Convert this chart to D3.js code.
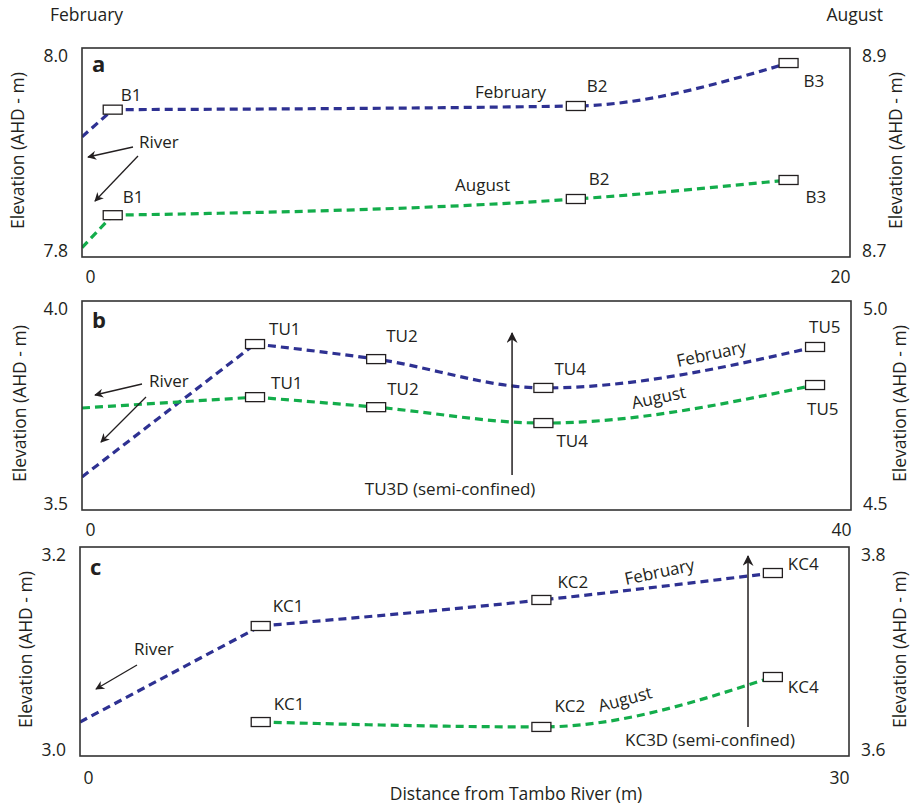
<!DOCTYPE html>
<html>
<head>
<meta charset="utf-8">
<script src="https://cdn.jsdelivr.net/npm/d3@7"></script>
<style>
  body { margin: 0; background: #fff; }
  text { font-family: "Open Sans", sans-serif; fill: #231f20; }
</style>
</head>
<body>
<div id="chart"></div>
<script>
// ---- data ----
// distance from river (m), elevation February (left axis) and August (right axis)
const wellsA = ["B1", "B2", "B3"];
const distA = [0.8, 12.86, 18.4];
const febA = [7.941, 7.9445, 7.9856];
const augA = [8.740, 8.7555, 8.7737];
const riverA = { feb: 7.915, aug: 8.709 };

const wellsB = ["TU1", "TU2", "TU4", "TU5"];
const distB = [9.0, 15.3, 24.0, 38.13];
const febB = [3.897, 3.861, 3.792, 3.890];
const augB = [4.770, 4.746, 4.708, 4.799];
const riverB = { feb: 3.579, aug: 4.744 };
const deepB = { name: "TU3D (semi-confined)", x: 22.37 };

const wellsC = ["KC1", "KC2", "KC4"];
const distC = [7.05, 18.0, 27.03];
const febC = [3.1244, 3.1493, 3.1751];
const augC = [3.6325, 3.6278, 3.6756];
const riverC = { feb: 3.0325, aug: null };
const deepC = { name: "KC3D (semi-confined)", x: 26.06 };

const xMaxes = [20, 40, 30];
const leftDomains = [[7.8, 8.0], [3.5, 4.0], [3.0, 3.2]];
const rightDomains = [[8.7, 8.9], [4.5, 5.0], [3.6, 3.8]];

// ---- layout ----
const width = 912, height = 805;
const boxH = 209;
const febColor = "#2e3192", augColor = "#13ad4b";
const fs = 17.5;   // general text size
const wfs = 17;    // well label size

const panels = [
  { letter: "a", wells: wellsA, dist: distA, feb: febA, aug: augA, river: riverA, deep: null,
    left: 82, right: 850, top: 48, letterDy: 24, titleL: 18, titleR: 897,
    febLab: [[8, -9], [11, -14], [15, 24]], augLab: [[10, -12], [13, -14], [17, 23]],
    febText: { x: 475, y: 98, r: 0 }, augText: { x: 455, y: 191, r: 0 },
    riverText: [57, 100], arrows: [[51, 99, 6, 109], [56, 108, 13, 153]] },
  { letter: "b", wells: wellsB, dist: distB, feb: febB, aug: augB, river: riverB, deep: deepB,
    left: 82, right: 851, top: 301, letterDy: 27, titleL: 20, titleR: 901,
    febLab: [[14, -9], [10, -17], [11, -13], [-6, -14]], augLab: [[16, -8], [11, -12], [13, 24], [-8, 30]],
    febText: { x: 678, y: 367, r: -12 }, augText: { x: 633, y: 409, r: -12 },
    riverText: [67, 86], arrows: [[60, 83, 13, 94], [64, 96, 19, 141]],
    deepBottom: 35, deepTip: 32, deepTextDx: -62, deepTextY: 194 },
  { letter: "c", wells: wellsC, dist: distC, feb: febC, aug: augC, river: riverC, deep: deepC,
    left: 80, right: 849, top: 547, letterDy: 28, titleL: 26, titleR: 901,
    febLab: [[12, -14], [16, -12], [15, -3]], augLab: [[13, -12], [13, -15], [15, 16]],
    febText: { x: 626, y: 585, r: -12 }, augText: { x: 600, y: 712, r: -15 },
    riverText: [54, 108], arrows: [[57, 118, 16, 142]],
    deepBottom: 29, deepTip: 9, deepTextDx: -38, deepTextY: 199 }
];

const svg = d3.select("#chart").append("svg")
  .attr("width", width)
  .attr("height", height);

const defs = svg.append("defs");
// small arrow head for the river pointers, bigger one for the deep wells
defs.append("marker").attr("id", "headS")
  .attr("viewBox", "0 0 10 10").attr("refX", 9).attr("refY", 5)
  .attr("markerUnits", "userSpaceOnUse").attr("markerWidth", 11).attr("markerHeight", 9)
  .attr("orient", "auto")
  .append("path").attr("d", "M0,0 L10,5 L0,10 L3,5 Z").attr("fill", "#231f20");
defs.append("marker").attr("id", "headL")
  .attr("viewBox", "0 0 10 10").attr("refX", 9).attr("refY", 5)
  .attr("markerUnits", "userSpaceOnUse").attr("markerWidth", 13).attr("markerHeight", 11)
  .attr("orient", "auto")
  .append("path").attr("d", "M0,0 L10,5 L0,10 L3,5 Z").attr("fill", "#231f20");

// month headers
svg.append("text").attr("x", 50).attr("y", 21).attr("font-size", fs).text("February");
svg.append("text").attr("x", 883).attr("y", 21).attr("font-size", fs)
  .attr("text-anchor", "end").text("August");

panels.forEach((p, i) => {
  const g = svg.append("g");
  const bottom = p.top + boxH;

  const x = d3.scaleLinear().domain([0, xMaxes[i]]).range([p.left, p.right]);
  const yL = d3.scaleLinear().domain(leftDomains[i]).range([bottom, p.top]);
  const yR = d3.scaleLinear().domain(rightDomains[i]).range([bottom, p.top]);

  // clip so lines stop at the frame
  defs.append("clipPath").attr("id", "clip" + i)
    .append("rect").attr("x", p.left).attr("y", p.top)
    .attr("width", p.right - p.left).attr("height", boxH);

  const lines = g.append("g").attr("clip-path", `url(#clip${i})`);

  // straight run from the river to the first well, smooth curve between wells
  const drawProfile = (vals, riverVal, y, color) => {
    const pts = p.dist.map((d, j) => ({ x: d, y: vals[j] }));
    const smooth = d3.line().x(d => x(d.x)).y(d => y(d.y)).curve(d3.curveMonotoneX);
    const straight = d3.line().x(d => x(d.x)).y(d => y(d.y));
    const style = sel => sel.attr("fill", "none").attr("stroke", color)
      .attr("stroke-width", 3.2).attr("stroke-dasharray", "8,5");
    if (riverVal != null) {
      lines.append("path").attr("d", straight([{ x: 0, y: riverVal }, pts[0]])).call(style);
    }
    lines.append("path").attr("d", smooth(pts)).call(style);
  };
  drawProfile(p.feb, p.river.feb, yL, febColor);
  drawProfile(p.aug, p.river.aug, yR, augColor);

  // frame
  g.append("rect").attr("x", p.left).attr("y", p.top)
    .attr("width", p.right - p.left).attr("height", boxH)
    .attr("fill", "none").attr("stroke", "#333").attr("stroke-width", 1.6);

  // well boxes + labels
  const drawWells = (vals, y, offs) => {
    p.wells.forEach((name, j) => {
      const cx = x(p.dist[j]), cy = y(vals[j]);
      g.append("rect").attr("x", cx - 9.5).attr("y", cy - 4.5)
        .attr("width", 19).attr("height", 9)
        .attr("fill", "#fff").attr("stroke", "#231f20").attr("stroke-width", 1.3);
      g.append("text").attr("x", cx + offs[j][0]).attr("y", cy + offs[j][1])
        .attr("font-size", wfs).text(name);
    });
  };
  drawWells(p.feb, yL, p.febLab);
  drawWells(p.aug, yR, p.augLab);

  // series names
  g.append("text").attr("font-size", wfs)
    .attr("transform", `translate(${p.febText.x},${p.febText.y}) rotate(${p.febText.r})`)
    .text("February");
  g.append("text").attr("font-size", wfs)
    .attr("transform", `translate(${p.augText.x},${p.augText.y}) rotate(${p.augText.r})`)
    .text("August");

  // river pointers
  g.append("text").attr("x", p.left + p.riverText[0]).attr("y", p.top + p.riverText[1])
    .attr("font-size", wfs).text("River");
  p.arrows.forEach(a => {
    g.append("line")
      .attr("x1", p.left + a[0]).attr("y1", p.top + a[1])
      .attr("x2", p.left + a[2]).attr("y2", p.top + a[3])
      .attr("stroke", "#231f20").attr("stroke-width", 1.3)
      .attr("marker-end", "url(#headS)");
  });

  // deep (semi-confined) well
  if (p.deep) {
    const dx = x(p.deep.x);
    g.append("line")
      .attr("x1", dx).attr("y1", bottom - p.deepBottom)
      .attr("x2", dx).attr("y2", p.top + p.deepTip)
      .attr("stroke", "#231f20").attr("stroke-width", 1.5)
      .attr("marker-end", "url(#headL)");
    g.append("text").attr("x", dx + p.deepTextDx).attr("y", p.top + p.deepTextY)
      .attr("text-anchor", "middle").attr("font-size", wfs).text(p.deep.name);
  }

  // panel letter
  g.append("text").attr("x", p.left + 10).attr("y", p.top + p.letterDy)
    .attr("font-size", 22).attr("font-weight", "bold").text(p.letter);

  // axes
  const fmt = d3.format(".1f");
  const styleAxis = ax => {
    ax.select(".domain").remove();
    ax.attr("font-family", null).attr("font-size", null);
    ax.selectAll("text").attr("font-size", fs).style("fill", "#231f20");
  };
  g.append("g").attr("transform", `translate(${p.left},0)`)
    .call(d3.axisLeft(yL).tickValues(leftDomains[i]).tickSize(0).tickPadding(14).tickFormat(fmt))
    .call(styleAxis)
    .selectAll("text").attr("dy", (d, j) => j === 0 ? "-1" : "13");
  g.append("g").attr("transform", `translate(${p.right},0)`)
    .call(d3.axisRight(yR).tickValues(rightDomains[i]).tickSize(0).tickPadding(12).tickFormat(fmt))
    .call(styleAxis)
    .selectAll("text").attr("dy", (d, j) => j === 0 ? "-1" : "13");
  g.append("g").attr("transform", `translate(0,${bottom})`)
    .call(d3.axisBottom(x).tickValues([0, xMaxes[i]]).tickSize(0).tickPadding(0).tickFormat(d3.format("d")))
    .call(styleAxis)
    .selectAll("text")
    .attr("dy", p.letter === "c" ? 28 : 26)
    .attr("dx", (d, j) => j === 0 ? 3 : 0)
    .attr("text-anchor", (d, j) => j === 0 ? "start" : "end");

  // y titles
  const midY = p.top + boxH / 2 - 2;
  g.append("text").attr("transform", `translate(${p.titleL + 6},${midY}) rotate(-90)`)
    .attr("text-anchor", "middle").attr("font-size", fs).text("Elevation (AHD - m)");
  g.append("text").attr("transform", `translate(${p.titleR + 5},${midY}) rotate(-90)`)
    .attr("text-anchor", "middle").attr("font-size", fs).text("Elevation (AHD - m)");
});

svg.append("text").attr("x", 516).attr("y", 800).attr("text-anchor", "middle")
  .attr("font-size", fs).text("Distance from Tambo River (m)");
</script>
</body>
</html>
